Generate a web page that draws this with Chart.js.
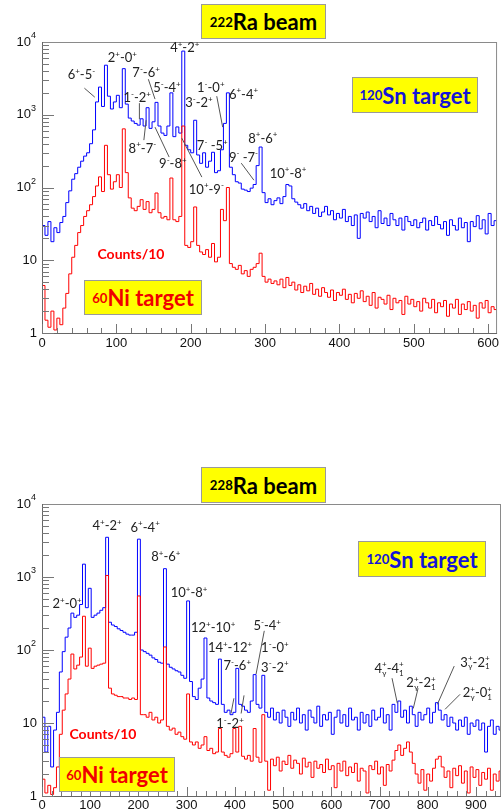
<!DOCTYPE html>
<html>
<head>
<meta charset="utf-8">
<script src="https://cdn.jsdelivr.net/npm/chart.js@4.4.1/dist/chart.umd.min.js"></script>
<style>
  html, body { margin: 0; padding: 0; background: #fff; }
  body { width: 502px; height: 811px; position: relative; overflow: hidden; }
  canvas { position: absolute; left: 0; }
  .box {
    position: absolute; background: #ffff00; border: 1px solid #9a9a9a; box-sizing: border-box;
    font-family: Lato, 'Open Sans', sans-serif; font-weight: bold; font-size: 22px;
    display: flex; align-items: center; justify-content: center; white-space: nowrap;
  }
  .box sup, .note sup { font-size: 60%; vertical-align: 0.6em; line-height: 0; }
  .note { position: absolute; font-family: Lato, sans-serif; font-weight: bold; font-size: 14px; color: #ff0000;
    transform: translate(-50%, -50%); white-space: nowrap; }
</style>
</head>
<body>
<canvas id="topChart" width="502" height="360" style="top:0;width:502px;height:360px"></canvas>
<canvas id="bottomChart" width="502" height="349" style="top:462px;width:502px;height:349px"></canvas>

<div class="box" style="left:201px;top:4px;width:125px;height:35px;color:#000"><sup>222</sup>Ra beam</div>
<div class="box" style="left:352px;top:77px;width:126px;height:36px;color:#1414d8"><sup>120</sup>Sn target</div>
<div class="box" style="left:84px;top:280px;width:118px;height:35px;color:#f00000"><sup>60</sup>Ni target</div>
<div class="note" style="left:131px;top:253px">Counts/10</div>

<div class="box" style="left:201px;top:467px;width:125px;height:36px;color:#000"><sup>228</sup>Ra beam</div>
<div class="box" style="left:358px;top:541px;width:128px;height:36px;color:#1414d8"><sup>120</sup>Sn target</div>
<div class="box" style="left:59px;top:757px;width:116px;height:35px;color:#f00000"><sup>60</sup>Ni target</div>
<div class="note" style="left:103px;top:733px">Counts/10</div>

<script>
// Gamma-ray spectra, 222Ra and 228Ra beams

// ---- 222Ra beam, 4 keV bins starting at 0 keV ----
const topBinWidth = 4;
const topSn = [
  30, 22, 34, 18, 28, 24, 33, 40, 62, 90,
  130, 155, 190, 230, 270, 300, 400, 620, 1500, 2400,
  1300, 4800, 1800, 1200, 1500, 1850, 1250, 4300, 1400, 900,
  820, 760, 720, 880, 700, 1250, 650, 800, 1480, 700,
  560, 520, 700, 2000, 500, 680, 560, 7500, 380, 330,
  300, 840, 280, 215, 300, 190, 230, 305, 160, 170,
  330, 760, 2000, 190, 150, 120, 115, 95, 92, 88,
  98, 110, 200, 360, 85, 62, 70, 58, 66, 72,
  60, 75, 110, 105, 70, 63, 58, 52, 60, 48,
  55, 44, 52, 40, 46, 55, 42, 48, 36, 44,
  38, 50, 34, 40, 30, 42, 20, 44, 38, 46,
  34, 40, 28, 48, 32, 38, 30, 44, 36, 30,
  38, 26, 40, 34, 30, 36, 28, 33, 38, 26,
  35, 30, 40, 31, 27, 34, 22, 36, 30, 26,
  38, 28, 33, 18, 34, 29, 41, 27, 36, 23,
  44, 30, 35
];
const topNi = [
  4.5, 1.5, 1.2, 2, 1.1, 1.6, 1.3, 2.2, 3.5, 6.5,
  11, 16, 24, 30, 40, 48, 58, 75, 105, 140,
  88, 380, 150, 95, 120, 150, 100, 640, 160, 72,
  52, 48, 55, 68, 50, 64, 45, 50, 84, 45,
  38, 40, 36, 135, 36, 34, 40, 700, 16, 15,
  18, 54, 16, 13, 12, 14, 11, 17, 9.5, 11,
  50, 35, 100, 9, 8, 7.5, 8.5, 6.5, 7.2, 6,
  7.5, 8, 9, 12.5, 6, 5, 5.5, 4.8, 5.2, 4.6,
  5.5, 4.2, 5.8, 4.5, 5, 3.9, 4.6, 3.6, 4.4, 3.8,
  4.8, 3.4, 4, 3.2, 4.2, 3.6, 3.1, 3.9, 2.8, 3.6,
  3.3, 4, 2.9, 3.4, 2.6, 3.5, 3, 3.8, 2.7, 3.2,
  2.4, 3.6, 2.2, 3.1, 2.9, 2.5, 3.3, 2.1, 3, 2.6,
  2.8, 1.8, 3.2, 2.5, 2.9, 2.3, 2.7, 2, 3, 2.6,
  2.2, 2.9, 1.9, 2.6, 2.3, 2.8, 1.7, 2.5, 2.2, 2.9,
  1.8, 2.5, 2.1, 2.7, 2, 2.4, 1.6, 2.6, 2.2, 2.8,
  1.9, 2.3, 2.1
];
// transition labels: text, keV, counts, optional leader lines [keV1, c1, keV2, c2]
const topNotes = [
  { t: '6^+-5^-', x: 53, y: 3610, lines: [[57, 2320, 71, 1745]] },
  { t: '2^+-0^+', x: 108, y: 6180 },
  { t: '4^+-2^+', x: 192, y: 8490 },
  { t: '7^--6^+', x: 140, y: 3850, lines: [[143, 3080, 152, 1640]] },
  { t: '5^--4^+', x: 168, y: 2390 },
  { t: '1^--2^+', x: 128, y: 1745, lines: [[131, 1443, 131, 870]] },
  { t: '1^--0^+', x: 227, y: 2390, lines: [[235, 1800, 243, 676]] },
  { t: '3^--2^+', x: 211, y: 1490 },
  { t: '6^+-4^+', x: 271, y: 1920 },
  { t: '8^+-6^+', x: 297, y: 477 },
  { t: '8^+-7^-', x: 135, y: 348, lines: [[137, 448, 140, 843]] },
  { t: '9^--8^+', x: 176, y: 216, lines: [[152, 676, 171, 262]] },
  { t: '10^+-9^-', x: 221, y: 95, lines: [[188, 477, 215, 139]] },
  { t: '7^- -5^+', x: 229, y: 382 },
  { t: '9^- -7^-', x: 271, y: 262, lines: [[268, 216, 285, 126]] },
  { t: '10^+-8^+', x: 331, y: 158 }
];

// ---- 228Ra beam, 6 keV bins starting at 0 keV ----
const bottomBinWidth = 6;
const bottomSn = [
  12, 4, 9, 2.5, 8, 14, 50, 95, 150, 200,
  320, 280, 300, 420, 1500, 380, 700, 280, 300, 320,
  350, 380, 3500, 240, 220, 210, 195, 185, 175, 165,
  160, 160, 175, 3300, 100, 95, 90, 85, 78, 74,
  68, 66, 1300, 64, 58, 55, 52, 50, 45, 41,
  470, 37, 23, 21, 30, 40, 146, 22, 20, 19,
  18, 75, 18, 14, 15, 13, 14, 56, 18, 17,
  15, 14, 20, 46, 18, 16, 45, 14, 12, 16,
  11, 14, 10, 15, 12, 9, 14, 11, 16, 10,
  13, 8, 15, 12, 10, 17, 9, 13, 11, 14,
  7, 12, 15, 10, 13, 9, 16, 11, 12, 8,
  14, 10, 13, 9, 15, 11, 12, 16, 10, 13,
  8, 18, 14, 20, 12, 15, 10, 17, 13, 9,
  14, 11, 13, 16, 10, 14, 19, 15, 11, 13,
  9, 12, 10, 8, 11, 9, 12, 7, 10, 9,
  11, 8, 10, 4, 9, 11, 7, 9, 8
];
const bottomNi = [
  1.7, 1.1, 1.4, 1.05, 1.3, 2.5, 7, 15, 25, 40,
  88, 55, 62, 80, 290, 60, 106, 56, 60, 62,
  64, 66, 1050, 30, 25, 24, 23, 23, 22, 22,
  21, 22, 21, 550, 13, 13, 12, 14, 11, 12,
  10, 11, 110, 9, 8, 8.5, 7, 7.5, 6.5, 6,
  25, 5.5, 5, 5.5, 4.5, 5, 6.5, 4.2, 4.5, 3.8,
  4, 8.4, 4, 3.6, 3.4, 3.8, 8.4, 4, 9, 3.5,
  3.2, 3.6, 3, 8.4, 3.4, 2.9, 13, 3, 1.2, 3.2,
  2.6, 3.4, 2.2, 3, 2.7, 3.6, 2.4, 3.1, 2.8, 2,
  3.3, 2.5, 2.9, 1.8, 3, 2.4, 2.7, 2.1, 3.2, 2.3,
  2.6, 1.3, 2.8, 2.2, 3, 1.9, 2.5, 2.1, 2.8, 1.6,
  2.4, 2.2, 1.1, 2.6, 2.3, 3, 2, 2.5, 1.4, 2.7,
  2.2, 3.1, 4.2, 5, 3.6, 4.5, 5.5, 4, 2.8, 2,
  1.5, 2.3, 1.2, 2, 1.6, 2.4, 3.2, 3.5, 2.5, 1.8,
  2.2, 1.3, 2.4, 1.9, 2.6, 1.5, 2.2, 1.1, 2.5, 1.8,
  2.3, 1.4, 2.1, 1.7, 2.4, 1.2, 2, 1.6, 2.2
];
const bottomNotes = [
  { t: '4^+-2^+', x: 135, y: 5130 },
  { t: '6^+-4^+', x: 214, y: 4820 },
  { t: '8^+-6^+', x: 257, y: 1920 },
  { t: '10^+-8^+', x: 305, y: 611 },
  { t: '2^+-0^+', x: 52, y: 431 },
  { t: '12^+-10^+', x: 355, y: 201 },
  { t: '14^+-12^+', x: 390, y: 107 },
  { t: '7^--6^+', x: 405, y: 62 },
  { t: '5^--4^+', x: 467, y: 214, lines: [[461, 183, 444, 46.7]] },
  { t: '1^--0^+', x: 483, y: 107 },
  { t: '3^--2^+', x: 483, y: 58.3 },
  { t: '1^--2^+', x: 390, y: 9.84, lines: [[392, 13.5, 398, 21.8], [413, 13.5, 419, 23.9]] },
  { t: '4_γ^+-4_1^+', x: 720, y: 56.5, lines: [[726, 41.1, 737, 18.6]] },
  { t: '2_γ^+-2_1^+', x: 786, y: 36.2, lines: [[780, 29.9, 770, 15.8]] },
  { t: '3_γ^+-2_1^+', x: 898, y: 68.3, lines: [[855, 60.2, 820, 18.0]] },
  { t: '2_γ^+-0_1^+', x: 903, y: 26.4, lines: [[867, 24.7, 836, 15.4]] }
];

const SN_COLOR = '#0000ff';
const NI_COLOR = '#ff0000';

function histPoints(values, width) {
  const pts = values.map((v, i) => ({ x: i * width, y: v }));
  pts.push({ x: values.length * width, y: values[values.length - 1] });
  return pts;
}

// text with ^x superscripts and _x subscripts
function parseRich(s) {
  const out = [];
  for (let i = 0; i < s.length; i++) {
    const c = s[i];
    if ((c === '^' || c === '_') && i + 1 < s.length) {
      out.push({ t: s[i + 1], m: c === '^' ? 'sup' : 'sub' });
      i++;
    } else {
      out.push({ t: c, m: 'n' });
    }
  }
  return out;
}

function drawRich(ctx, s, cx, cy, size) {
  const parts = parseRich(s);
  const fN = size + 'px Lato, sans-serif';
  const fS = Math.round(size * 0.64) + 'px Lato, sans-serif';
  let w = 0, subX = null;
  const placed = [];
  parts.forEach(p => {
    ctx.font = p.m === 'n' ? fN : fS;
    const pw = ctx.measureText(p.t).width;
    if (p.m === 'sup' && subX !== null) {
      placed.push({ p, x: subX });
      w = Math.max(w, subX + pw);
      subX = null;
      return;
    }
    placed.push({ p, x: w });
    subX = p.m === 'sub' ? w : null;
    w += pw;
  });
  const x0 = cx - w / 2;
  const base = cy + size * 0.35;
  ctx.textAlign = 'left';
  ctx.textBaseline = 'alphabetic';
  placed.forEach(({ p, x }) => {
    ctx.font = p.m === 'n' ? fN : fS;
    let yy = base;
    if (p.m === 'sup') yy = base - size * 0.4;
    if (p.m === 'sub') yy = base + size * 0.22;
    ctx.fillText(p.t, x0 + x, yy);
  });
}

const decorPlugin = {
  id: 'decor',
  afterDatasetsDraw(chart, args, opts) {
    const { ctx, chartArea: a, scales: { x, y } } = chart;
    ctx.save();
    // frame
    ctx.strokeStyle = '#8a8a8a';
    ctx.lineWidth = 1;
    ctx.strokeRect(a.left + 0.5, a.top + 0.5, a.right - a.left - 1, a.bottom - a.top);
    ctx.strokeStyle = '#666';
    ctx.beginPath();
    ctx.moveTo(a.left + 0.5, a.top);
    ctx.lineTo(a.left + 0.5, a.bottom + 0.5);
    ctx.lineTo(a.right, a.bottom + 0.5);
    ctx.stroke();

    // inward ticks, x
    ctx.strokeStyle = '#777';
    ctx.beginPath();
    for (let v = 0; v <= x.max; v += 20) {
      const px = Math.round(x.getPixelForValue(v)) + 0.5;
      const len = v % 100 === 0 ? 9 : 5;
      ctx.moveTo(px, a.bottom);
      ctx.lineTo(px, a.bottom - len);
    }
    // inward ticks, y (log)
    for (let d = 0; d < 4; d++) {
      for (let m = 1; m <= 9; m++) {
        const py = Math.round(y.getPixelForValue(m * Math.pow(10, d))) + 0.5;
        const len = m === 1 ? 12 : 7;
        ctx.moveTo(a.left, py);
        ctx.lineTo(a.left + len, py);
      }
    }
    ctx.stroke();

    // y labels 1, 10, 10^2 ...
    ctx.fillStyle = '#111';
    ctx.textBaseline = 'middle';
    for (let d = 0; d <= 4; d++) {
      const py = y.getPixelForValue(Math.pow(10, d));
      if (d < 2) {
        ctx.font = '13px "Liberation Sans", Arial, sans-serif';
        ctx.textAlign = 'right';
        ctx.fillText(d === 0 ? '1' : '10', a.left - 5, py);
      } else {
        ctx.font = '9px "Liberation Sans", Arial, sans-serif';
        ctx.textAlign = 'right';
        const ew = ctx.measureText(String(d)).width;
        ctx.fillText(String(d), a.left - 6, py - 6);
        ctx.font = '13px "Liberation Sans", Arial, sans-serif';
        ctx.fillText('10', a.left - 6 - ew, py);
      }
    }

    // transition labels with leader lines
    const notes = opts.notes || [];
    ctx.strokeStyle = '#555';
    ctx.lineWidth = 1;
    notes.forEach(n => {
      (n.lines || []).forEach(l => {
        ctx.beginPath();
        ctx.moveTo(x.getPixelForValue(l[0]), y.getPixelForValue(l[1]));
        ctx.lineTo(x.getPixelForValue(l[2]), y.getPixelForValue(l[3]));
        ctx.stroke();
      });
    });
    ctx.fillStyle = '#222';
    notes.forEach(n => {
      drawRich(ctx, n.t, x.getPixelForValue(n.x), y.getPixelForValue(n.y), 13);
    });
    ctx.restore();
  }
};

function makePanel(id, sn, ni, binWidth, xMax, axisHeight, labelPad, notes) {
  return new Chart(document.getElementById(id), {
    type: 'line',
    data: {
      datasets: [
        { label: '60Ni target', data: histPoints(ni, binWidth), borderColor: NI_COLOR },
        { label: '120Sn target', data: histPoints(sn, binWidth), borderColor: SN_COLOR }
      ]
    },
    options: {
      responsive: false,
      animation: false,
      events: [],
      layout: { padding: { left: 0, top: 42, right: 1, bottom: 0 } },
      elements: {
        line: { borderWidth: 1, stepped: true, tension: 0 },
        point: { radius: 0 }
      },
      scales: {
        x: {
          type: 'linear', min: 0, max: xMax,
          grid: { display: false, drawTicks: false, tickLength: 0 },
          border: { display: false },
          afterFit: s => { s.height = axisHeight; },
          ticks: {
            stepSize: 100, includeBounds: false, maxRotation: 0, autoSkip: false, padding: labelPad,
            color: '#111', font: { family: '"Liberation Sans", Arial, sans-serif', size: 13 }
          }
        },
        y: {
          type: 'logarithmic', min: 1, max: 10000,
          grid: { display: false },
          border: { display: false },
          ticks: { display: false },
          afterFit: s => { s.width = 42; }
        }
      },
      plugins: {
        legend: { display: false },
        tooltip: { enabled: false },
        decor: { notes: notes }
      }
    },
    plugins: [decorPlugin]
  });
}

makePanel('topChart', topSn, topNi, topBinWidth, 612, 27, 3, topNotes);
makePanel('bottomChart', bottomSn, bottomNi, bottomBinWidth, 952, 15, 2, bottomNotes);
</script>
</body>
</html>
